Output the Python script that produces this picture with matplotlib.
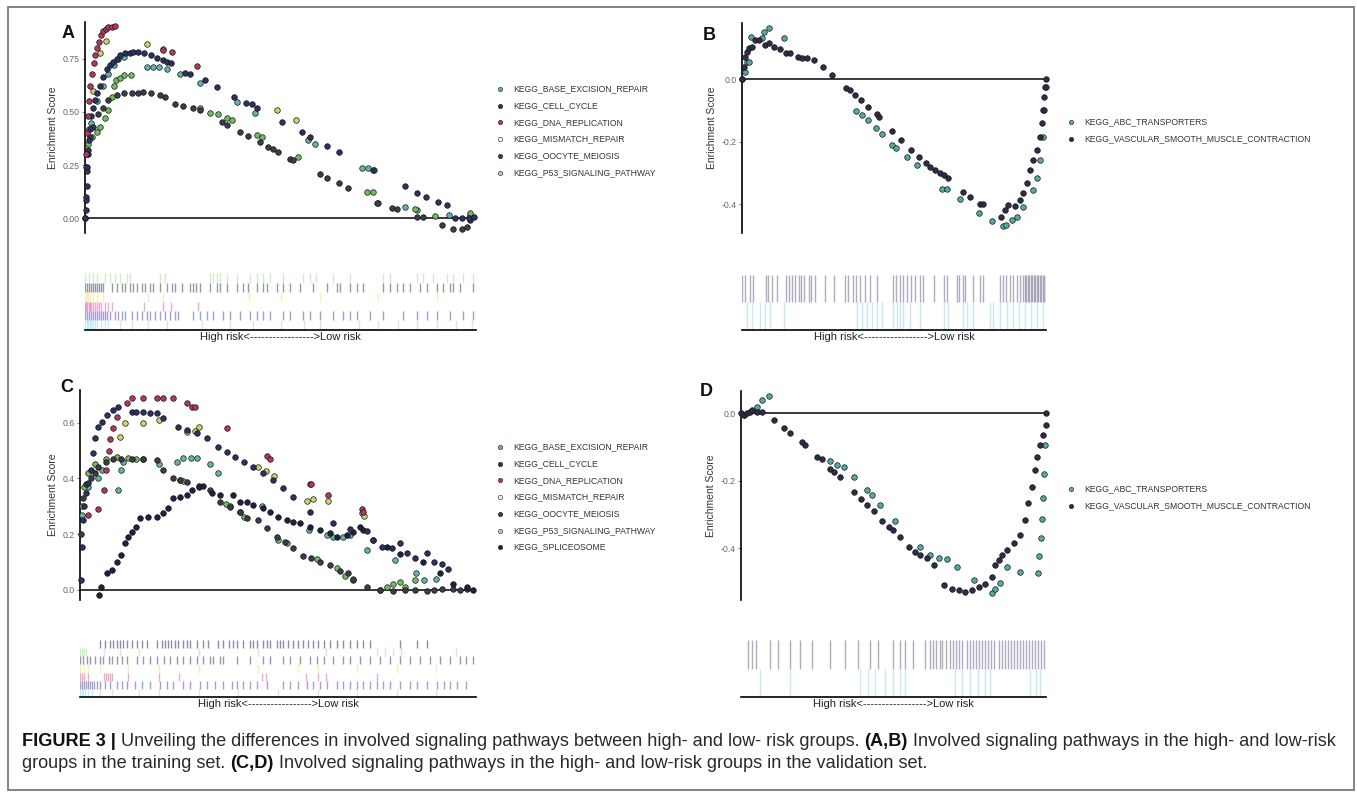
import matplotlib
matplotlib.use('Agg')
import matplotlib.pyplot as plt

plt.rcParams['font.family'] = ['Liberation Sans', 'DejaVu Sans']

# ---------------- data (x = rank fraction, y = running enrichment score) ----------------
# panel A (training set, high-risk enriched)
a_names = ['KEGG_BASE_EXCISION_REPAIR', 'KEGG_CELL_CYCLE', 'KEGG_DNA_REPLICATION',
           'KEGG_MISMATCH_REPAIR', 'KEGG_OOCYTE_MEIOSIS', 'KEGG_P53_SIGNALING_PATHWAY']
a_base_x = [0.005, 0.015, 0.03, 0.045, 0.06, 0.075, 0.085, 0.1, 0.158, 0.175, 0.19, 0.21, 0.243, 0.294,
            0.388, 0.435, 0.57, 0.588, 0.708, 0.725, 0.74, 0.818, 0.85, 0.93, 0.985]
a_base_y = [0.3, 0.45, 0.55, 0.62, 0.68, 0.72, 0.75, 0.76, 0.71, 0.71, 0.71, 0.70, 0.68, 0.635,
            0.545, 0.495, 0.37, 0.35, 0.237, 0.237, 0.225, 0.053, 0.04, 0.015, 0.014]
a_cell_x = [0.0, 0.002, 0.003, 0.004, 0.006, 0.008, 0.010, 0.013, 0.016, 0.021, 0.025, 0.030, 0.038, 0.046,
            0.055, 0.064, 0.072, 0.081, 0.090, 0.102, 0.115, 0.124, 0.136, 0.150, 0.170, 0.183, 0.200, 0.210,
            0.221, 0.255, 0.268, 0.307, 0.337, 0.380, 0.413, 0.426, 0.439, 0.503, 0.554, 0.575, 0.618, 0.650,
            0.736, 0.818, 0.848, 0.872, 0.904, 0.925, 0.947, 0.964, 0.981, 0.995]
a_cell_y = [0.0, 0.04, 0.085, 0.15, 0.24, 0.30, 0.37, 0.42, 0.48, 0.52, 0.555, 0.59, 0.62, 0.665,
            0.70, 0.72, 0.735, 0.75, 0.767, 0.775, 0.778, 0.783, 0.782, 0.775, 0.767, 0.752, 0.744, 0.737,
            0.73, 0.684, 0.678, 0.650, 0.615, 0.571, 0.543, 0.537, 0.52, 0.454, 0.403, 0.383, 0.339, 0.309,
            0.226, 0.152, 0.12, 0.10, 0.077, 0.061, 0.0, 0.0, 0.0, 0.005]
a_dna_x = [0.002, 0.005, 0.008, 0.011, 0.014, 0.018, 0.022, 0.026, 0.030, 0.035, 0.040, 0.046, 0.054, 0.060,
           0.068, 0.077, 0.200, 0.222, 0.287]
a_dna_y = [0.30, 0.40, 0.48, 0.55, 0.62, 0.68, 0.73, 0.77, 0.80, 0.83, 0.86, 0.88, 0.89, 0.90,
           0.90, 0.905, 0.79, 0.78, 0.715]
a_mis_x = [0.01, 0.02, 0.038, 0.054, 0.158, 0.20, 0.49, 0.54]
a_mis_y = [0.42, 0.6, 0.775, 0.835, 0.82, 0.795, 0.51, 0.46]
a_ooc_x = [0.0, 0.003, 0.005, 0.008, 0.013, 0.021, 0.034, 0.047, 0.060, 0.081, 0.100, 0.119, 0.136, 0.149,
           0.170, 0.191, 0.204, 0.230, 0.251, 0.277, 0.294, 0.350, 0.362, 0.396, 0.418, 0.447, 0.468, 0.481,
           0.494, 0.524, 0.533, 0.601, 0.618, 0.650, 0.673, 0.746, 0.784, 0.797, 0.848, 0.865, 0.912, 0.942,
           0.963, 0.976, 0.985]
a_ooc_y = [0.0, 0.10, 0.22, 0.32, 0.38, 0.43, 0.49, 0.52, 0.556, 0.58, 0.587, 0.587, 0.59, 0.595,
           0.59, 0.579, 0.568, 0.537, 0.527, 0.516, 0.508, 0.454, 0.438, 0.406, 0.386, 0.36, 0.336, 0.325,
           0.309, 0.276, 0.273, 0.21, 0.191, 0.163, 0.14, 0.069, 0.046, 0.042, 0.006, 0.003, -0.033, -0.049,
           -0.05, -0.04, -0.01]
a_p53_x = [0.003, 0.008, 0.017, 0.03, 0.038, 0.051, 0.06, 0.068, 0.074, 0.08, 0.09, 0.1, 0.117, 0.294, 0.32,
           0.341, 0.362, 0.375, 0.439, 0.452, 0.546, 0.72, 0.737, 0.750, 0.844, 0.896, 0.985]
a_p53_y = [0.24, 0.35, 0.383, 0.406, 0.43, 0.47, 0.508, 0.571, 0.62, 0.65, 0.66, 0.673, 0.673, 0.516, 0.496,
           0.49, 0.469, 0.46, 0.39, 0.383, 0.289, 0.124, 0.122, 0.069, 0.042, 0.009, 0.022]

# panel B (training set, low-risk enriched)
b_names = ['KEGG_ABC_TRANSPORTERS', 'KEGG_VASCULAR_SMOOTH_MUSCLE_CONTRACTION']
b_abc_x = [0.0, 0.011, 0.016, 0.022, 0.03, 0.066, 0.071, 0.088, 0.137, 0.376, 0.394, 0.413, 0.441, 0.46,
           0.493, 0.507, 0.542, 0.575, 0.657, 0.674, 0.718, 0.778, 0.821, 0.857, 0.87, 0.887, 0.903, 0.924,
           0.957, 0.97, 0.98, 0.99, 0.993, 1.0]
b_abc_y = [0.0, 0.023, 0.055, 0.055, 0.135, 0.13, 0.149, 0.162, 0.13, -0.101, -0.115, -0.131, -0.155, -0.176,
           -0.211, -0.221, -0.248, -0.274, -0.352, -0.352, -0.383, -0.427, -0.455, -0.471, -0.465, -0.452, -0.44,
           -0.408, -0.354, -0.317, -0.259, -0.185, -0.099, -0.025]
b_vsm_x = [0.0, 0.005, 0.011, 0.016, 0.022, 0.033, 0.044, 0.055, 0.077, 0.088, 0.104, 0.124, 0.146, 0.159,
           0.183, 0.197, 0.214, 0.236, 0.266, 0.297, 0.343, 0.354, 0.372, 0.391, 0.416, 0.443, 0.451, 0.493,
           0.524, 0.556, 0.583, 0.606, 0.619, 0.635, 0.652, 0.663, 0.679, 0.726, 0.75, 0.783, 0.794, 0.851,
           0.865, 0.876, 0.898, 0.915, 0.924, 0.937, 0.947, 0.957, 0.97, 0.98, 0.987, 0.99, 0.993, 0.997, 1.0]
b_vsm_y = [0.0, 0.04, 0.07, 0.087, 0.098, 0.103, 0.124, 0.124, 0.108, 0.114, 0.103, 0.095, 0.082, 0.082,
           0.071, 0.066, 0.066, 0.061, 0.039, 0.013, -0.03, -0.035, -0.051, -0.067, -0.09, -0.112, -0.12, -0.165,
           -0.195, -0.227, -0.248, -0.269, -0.28, -0.29, -0.301, -0.306, -0.317, -0.362, -0.378, -0.40, -0.398,
           -0.44, -0.42, -0.402, -0.407, -0.387, -0.365, -0.332, -0.291, -0.259, -0.227, -0.185, -0.141, -0.099,
           -0.057, -0.025, 0.0]

# panel C (validation set, high-risk enriched)
c_names = a_names + ['KEGG_SPLICEOSOME']
c_base_x = [0.004, 0.02, 0.045, 0.055, 0.095, 0.105, 0.11, 0.2, 0.245, 0.262, 0.28, 0.295, 0.329, 0.35, 0.46,
            0.58, 0.625, 0.64, 0.667, 0.684, 0.726, 0.797, 0.85, 0.87, 0.9]
c_base_y = [0.27, 0.37, 0.40, 0.43, 0.36, 0.43, 0.46, 0.45, 0.46, 0.472, 0.472, 0.472, 0.45, 0.42, 0.30,
            0.215, 0.197, 0.19, 0.19, 0.197, 0.143, 0.107, 0.06, 0.036, 0.04]
c_cell_x = [0.002, 0.004, 0.007, 0.01, 0.015, 0.021, 0.027, 0.032, 0.038, 0.046, 0.055, 0.068, 0.084, 0.095,
            0.131, 0.143, 0.16, 0.177, 0.194, 0.211, 0.249, 0.27, 0.295, 0.321, 0.35, 0.371, 0.392, 0.414,
            0.439, 0.464, 0.489, 0.515, 0.54, 0.582, 0.641, 0.684, 0.726, 0.743, 0.764, 0.789, 0.81, 0.827,
            0.848, 0.878, 0.895, 0.916, 0.932]
c_cell_y = [0.036, 0.155, 0.25, 0.30, 0.347, 0.382, 0.43, 0.49, 0.544, 0.586, 0.604, 0.627, 0.645, 0.655,
            0.639, 0.639, 0.639, 0.635, 0.633, 0.616, 0.586, 0.574, 0.562, 0.544, 0.514, 0.496, 0.478, 0.46,
            0.442, 0.418, 0.394, 0.365, 0.335, 0.281, 0.239, 0.22, 0.21, 0.18, 0.155, 0.149, 0.167, 0.131,
            0.113, 0.131, 0.102, 0.092, 0.074]
c_dna_x = [0.021, 0.046, 0.062, 0.066, 0.074, 0.076, 0.084, 0.093, 0.118, 0.131, 0.16, 0.194, 0.211, 0.236,
           0.27, 0.283, 0.292, 0.371, 0.473, 0.481, 0.582, 0.586, 0.629, 0.713, 0.717]
c_dna_y = [0.27, 0.29, 0.36, 0.43, 0.50, 0.54, 0.58, 0.62, 0.67, 0.69, 0.69, 0.687, 0.687, 0.687,
           0.672, 0.655, 0.655, 0.58, 0.48, 0.47, 0.38, 0.38, 0.34, 0.29, 0.28]
c_mis_x = [0.1, 0.113, 0.16, 0.2, 0.27, 0.29, 0.3, 0.45, 0.47, 0.49, 0.575, 0.59, 0.629, 0.713, 0.72]
c_mis_y = [0.55, 0.60, 0.60, 0.61, 0.565, 0.57, 0.585, 0.44, 0.425, 0.41, 0.32, 0.325, 0.32, 0.275, 0.265]
c_ooc_x = [0.002, 0.007, 0.015, 0.027, 0.038, 0.046, 0.066, 0.084, 0.105, 0.131, 0.16, 0.194, 0.211, 0.236,
           0.253, 0.27, 0.3, 0.329, 0.354, 0.38, 0.405, 0.422, 0.451, 0.473, 0.498, 0.519, 0.54, 0.565, 0.586,
           0.608, 0.633, 0.658, 0.679, 0.692, 0.726, 0.759, 0.793, 0.823, 0.848, 0.878, 0.895, 0.916, 0.945,
           0.962, 0.979]
c_ooc_y = [0.2, 0.33, 0.38, 0.40, 0.42, 0.44, 0.46, 0.47, 0.47, 0.47, 0.468, 0.465, 0.43, 0.40,
           0.394, 0.388, 0.37, 0.36, 0.317, 0.299, 0.281, 0.257, 0.25, 0.221, 0.191, 0.173, 0.149, 0.12, 0.113,
           0.102, 0.09, 0.069, 0.06, 0.036, 0.012, 0.0, -0.005, 0.0, 0.0, -0.005, 0.0, 0.003, 0.005,
           0.0, 0.005]
c_p53_x = [0.004, 0.01, 0.021, 0.038, 0.066, 0.093, 0.122, 0.143, 0.16, 0.253, 0.262, 0.37, 0.38, 0.405, 0.414,
           0.5, 0.525, 0.6, 0.65, 0.672, 0.692, 0.759, 0.776, 0.793, 0.81, 0.823, 0.848]
c_p53_y = [0.3, 0.37, 0.42, 0.45, 0.47, 0.475, 0.472, 0.47, 0.47, 0.394, 0.39, 0.31, 0.30, 0.28, 0.26,
           0.18, 0.17, 0.11, 0.08, 0.05, 0.04, 0.0, 0.01, 0.02, 0.03, 0.01, 0.036]
c_spl_x = [0.049, 0.053, 0.068, 0.08, 0.093, 0.105, 0.114, 0.122, 0.131, 0.143, 0.152, 0.173, 0.194, 0.211,
           0.224, 0.236, 0.253, 0.27, 0.283, 0.3, 0.312, 0.333, 0.354, 0.388, 0.405, 0.422, 0.439, 0.464, 0.481,
           0.502, 0.523, 0.54, 0.557, 0.582, 0.608, 0.633, 0.65, 0.675, 0.692, 0.709, 0.717, 0.743, 0.776, 0.81,
           0.869, 0.911, 0.945, 0.979, 0.996]
c_spl_y = [-0.018, 0.012, 0.06, 0.072, 0.102, 0.125, 0.167, 0.191, 0.209, 0.227, 0.257, 0.263, 0.263, 0.275,
           0.293, 0.329, 0.335, 0.341, 0.359, 0.371, 0.373, 0.347, 0.341, 0.341, 0.317, 0.317, 0.305, 0.293, 0.281,
           0.263, 0.251, 0.245, 0.239, 0.227, 0.215, 0.203, 0.191, 0.197, 0.209, 0.227, 0.215, 0.18, 0.155, 0.13,
           0.1, 0.06, 0.02, 0.01, 0.0]

# panel D (validation set, low-risk enriched)
d_abc_x = [0.009, 0.053, 0.069, 0.091, 0.293, 0.315, 0.337, 0.37, 0.413, 0.43, 0.457, 0.506, 0.588, 0.621,
           0.648, 0.676, 0.708, 0.763, 0.823, 0.834, 0.849, 0.871, 0.915, 0.975, 0.978, 0.983, 0.986, 0.989,
           0.994, 0.997]
d_abc_y = [-0.005, 0.02, 0.04, 0.05, -0.141, -0.153, -0.16, -0.19, -0.227, -0.242, -0.272, -0.319, -0.395, -0.42,
           -0.43, -0.432, -0.454, -0.494, -0.533, -0.519, -0.504, -0.455, -0.469, -0.474, -0.423, -0.37, -0.314,
           -0.252, -0.181, -0.094]
d_vsm_x = [0.0, 0.009, 0.02, 0.031, 0.036, 0.053, 0.069, 0.107, 0.14, 0.162, 0.2, 0.211, 0.249, 0.266, 0.293,
           0.304, 0.326, 0.37, 0.392, 0.413, 0.435, 0.462, 0.484, 0.5, 0.522, 0.55, 0.572, 0.588, 0.61, 0.632,
           0.665, 0.692, 0.714, 0.736, 0.757, 0.779, 0.801, 0.823, 0.834, 0.845, 0.856, 0.872, 0.894, 0.915,
           0.931, 0.942, 0.953, 0.964, 0.97, 0.98, 0.99, 0.999, 1.0]
d_vsm_y = [0.0, -0.005, 0.0, 0.005, 0.01, 0.003, 0.003, -0.02, -0.044, -0.059, -0.084, -0.094, -0.128, -0.136,
           -0.166, -0.173, -0.19, -0.232, -0.255, -0.272, -0.289, -0.319, -0.336, -0.346, -0.365, -0.395, -0.41,
           -0.42, -0.43, -0.449, -0.509, -0.519, -0.523, -0.528, -0.523, -0.514, -0.506, -0.484, -0.449, -0.435,
           -0.42, -0.405, -0.385, -0.361, -0.316, -0.267, -0.217, -0.168, -0.129, -0.094, -0.064, -0.035, 0.0]

# gene hit positions (rug rows, top to bottom)
a_rug = [
    [0.0, 0.01, 0.02, 0.03, 0.051, 0.064, 0.077, 0.09, 0.107, 0.115, 0.192, 0.205, 0.32, 0.328, 0.337, 0.345,
     0.362, 0.388, 0.422, 0.439, 0.456, 0.473, 0.507, 0.558, 0.575, 0.592, 0.635, 0.678, 0.763, 0.78, 0.848,
     0.865, 0.891, 0.925, 0.942, 0.968, 0.993],
    [0.0, 0.005, 0.01, 0.015, 0.02, 0.025, 0.03, 0.035, 0.04, 0.047, 0.068, 0.081, 0.094, 0.102, 0.115, 0.124,
     0.132, 0.145, 0.153, 0.166, 0.175, 0.192, 0.209, 0.222, 0.23, 0.247, 0.268, 0.277, 0.285, 0.294, 0.32,
     0.337, 0.345, 0.362, 0.388, 0.405, 0.418, 0.439, 0.456, 0.465, 0.49, 0.507, 0.524, 0.55, 0.584, 0.618,
     0.644, 0.652, 0.678, 0.695, 0.712, 0.763, 0.78, 0.797, 0.814, 0.831, 0.857, 0.874, 0.9, 0.916, 0.933,
     0.942, 0.959, 0.993],
    [0.0, 0.004, 0.008, 0.012, 0.02, 0.03, 0.045, 0.16, 0.2, 0.42, 0.5, 0.6, 0.75, 0.9],
    [0.0, 0.003, 0.006, 0.009, 0.012, 0.015, 0.02, 0.025, 0.03, 0.035, 0.04, 0.05, 0.06, 0.07, 0.15, 0.2,
     0.22, 0.29],
    [0.0, 0.005, 0.01, 0.015, 0.02, 0.025, 0.03, 0.035, 0.04, 0.045, 0.05, 0.055, 0.064, 0.077, 0.085, 0.094,
     0.102, 0.119, 0.132, 0.145, 0.158, 0.166, 0.179, 0.192, 0.205, 0.218, 0.23, 0.239, 0.277, 0.294, 0.311,
     0.328, 0.354, 0.371, 0.396, 0.422, 0.439, 0.456, 0.473, 0.507, 0.524, 0.558, 0.575, 0.601, 0.635, 0.661,
     0.678, 0.695, 0.729, 0.763, 0.814, 0.848, 0.874, 0.9, 0.933, 0.968, 0.993],
    [0.0, 0.004, 0.008, 0.012, 0.016, 0.02, 0.025, 0.03, 0.04, 0.05, 0.06, 0.09, 0.12, 0.16, 0.21, 0.3, 0.37,
     0.43, 0.5, 0.56, 0.6, 0.7, 0.75, 0.8, 0.85, 0.9, 0.95, 0.99],
]
b_rug = [
    [0.0, 0.011, 0.027, 0.036, 0.08, 0.087, 0.099, 0.115, 0.146, 0.153, 0.164, 0.175, 0.186, 0.194, 0.205,
     0.219, 0.228, 0.241, 0.274, 0.304, 0.339, 0.35, 0.365, 0.376, 0.389, 0.403, 0.422, 0.444, 0.498, 0.507,
     0.52, 0.531, 0.544, 0.556, 0.57, 0.584, 0.597, 0.63, 0.663, 0.674, 0.707, 0.715, 0.726, 0.735, 0.761,
     0.783, 0.794, 0.849, 0.857, 0.869, 0.88, 0.893, 0.904, 0.915, 0.925, 0.93, 0.935, 0.94, 0.945, 0.95,
     0.955, 0.96, 0.965, 0.97, 0.975, 0.98, 0.985, 0.99, 0.995, 1.0],
    [0.016, 0.033, 0.06, 0.077, 0.093, 0.137, 0.378, 0.394, 0.411, 0.427, 0.444, 0.46, 0.498, 0.509, 0.52,
     0.531, 0.553, 0.586, 0.663, 0.679, 0.728, 0.739, 0.761, 0.816, 0.827, 0.849, 0.871, 0.893, 0.91, 0.93,
     0.95, 0.97, 0.99],
]
c_rug = [
    [0.051, 0.063, 0.076, 0.084, 0.093, 0.101, 0.109, 0.119, 0.131, 0.145, 0.156, 0.168, 0.194, 0.206, 0.215,
     0.223, 0.231, 0.24, 0.248, 0.261, 0.269, 0.278, 0.295, 0.311, 0.324, 0.349, 0.362, 0.375, 0.387, 0.396,
     0.412, 0.429, 0.438, 0.446, 0.463, 0.471, 0.48, 0.497, 0.505, 0.513, 0.526, 0.539, 0.551, 0.564, 0.577,
     0.589, 0.602, 0.615, 0.631, 0.648, 0.665, 0.682, 0.699, 0.715, 0.732, 0.808, 0.85, 0.875],
    [0.0, 0.005, 0.01, 0.015, 0.06, 0.1, 0.15, 0.3, 0.45, 0.62, 0.75, 0.77, 0.79, 0.81, 0.95],
    [0.0, 0.008, 0.017, 0.025, 0.038, 0.051, 0.059, 0.072, 0.08, 0.093, 0.105, 0.118, 0.143, 0.16, 0.177,
     0.194, 0.211, 0.227, 0.244, 0.261, 0.278, 0.295, 0.311, 0.328, 0.337, 0.354, 0.362, 0.396, 0.429, 0.463,
     0.48, 0.513, 0.53, 0.556, 0.581, 0.598, 0.615, 0.64, 0.665, 0.682, 0.707, 0.732, 0.758, 0.783, 0.808,
     0.833, 0.859, 0.884, 0.91, 0.934, 0.96, 0.976, 0.993],
    [0.0, 0.01, 0.02, 0.05, 0.12, 0.2, 0.3, 0.45, 0.55, 0.6, 0.7, 0.8, 0.9],
    [0.0, 0.005, 0.01, 0.02, 0.06, 0.065, 0.07, 0.075, 0.08, 0.12, 0.2, 0.25, 0.46, 0.47, 0.57, 0.6, 0.62, 0.75],
    [0.0, 0.005, 0.01, 0.015, 0.02, 0.025, 0.03, 0.035, 0.042, 0.051, 0.063, 0.076, 0.093, 0.105, 0.118, 0.139,
     0.156, 0.177, 0.202, 0.219, 0.236, 0.261, 0.278, 0.303, 0.32, 0.341, 0.362, 0.383, 0.396, 0.412, 0.429,
     0.446, 0.471, 0.513, 0.53, 0.551, 0.572, 0.589, 0.606, 0.623, 0.648, 0.665, 0.682, 0.699, 0.715, 0.732,
     0.749, 0.766, 0.783, 0.808, 0.833, 0.85, 0.875, 0.901, 0.918, 0.934, 0.951, 0.976],
    [0.0, 0.004, 0.008, 0.012, 0.02, 0.03, 0.05, 0.08, 0.15, 0.2, 0.3, 0.4, 0.5, 0.6, 0.7, 0.8, 0.9],
]
d_rug = [
    [0.023, 0.036, 0.049, 0.095, 0.121, 0.161, 0.193, 0.233, 0.292, 0.341, 0.384, 0.423, 0.449, 0.498, 0.521,
     0.538, 0.564, 0.603, 0.62, 0.63, 0.64, 0.652, 0.66, 0.672, 0.685, 0.695, 0.705, 0.715, 0.725, 0.74,
     0.75, 0.76, 0.77, 0.78, 0.79, 0.8, 0.81, 0.82, 0.83, 0.845, 0.855, 0.865, 0.875, 0.885, 0.895, 0.905,
     0.915, 0.925, 0.935, 0.945, 0.955, 0.965, 0.975, 0.985, 0.995],
    [0.062, 0.161, 0.39, 0.416, 0.439, 0.472, 0.498, 0.521, 0.538, 0.702, 0.725, 0.751, 0.777, 0.8, 0.816,
     0.948, 0.967, 0.98],
]

# colours
col_base, col_cell, col_dna = '#62b6a8', '#2b3160', '#b03a5b'
col_mis, col_ooc, col_p53, col_spl = '#cfd36b', '#3b3b4a', '#6fbd5e', '#1d2142'
col_abc, col_vsm = '#55aaa3', '#2f2c48'
rug_multi = ['#9ad88a', '#55556a', '#eedc5a', '#e0589a', '#5d52a8', '#86d6e6']
rug_alpha = [0.45, 0.6, 0.45, 0.5, 0.55, 0.45]

W, H = 1357, 798
fig = plt.figure(figsize=(W / 100, H / 100), dpi=100)


def box(x0, y0, x1, y1):
    return fig.add_axes([x0 / W, 1 - y1 / H, (x1 - x0) / W, (y1 - y0) / H])


def es_panel(rect, ylim, yticks, ylabels, series, colors):
    ax = box(*rect)
    for (xs, ys), c in zip(series, colors):
        ax.scatter(xs, ys, s=16, c=c, edgecolors='#151515', linewidths=0.5, clip_on=False, zorder=3)
    ax.axhline(0, color='#3a3a3a', lw=1.4, zorder=1)
    ax.set_xlim(0, 1)
    ax.set_ylim(*ylim)
    for s in ['top', 'right', 'bottom']:
        ax.spines[s].set_visible(False)
    ax.spines['left'].set_linewidth(1.2)
    ax.set_xticks([])
    ax.set_yticks(yticks, ylabels)
    ax.tick_params(axis='y', length=2, width=0.6, colors='#666666', labelsize=6.3, pad=2)
    ax.set_ylabel('Enrichment Score', fontsize=7.5, color='#333333', labelpad=3)
    ax.patch.set_alpha(0)
    return ax


def rug_panel(rect, rows, colors, alphas):
    ax = box(*rect)
    n = len(rows)
    for i, (pos, c, al) in enumerate(zip(rows, colors, alphas)):
        ax.vlines(pos, n - 1 - i, n - i, colors=c, lw=1.0, alpha=al)
    ax.set_xlim(0, 1)
    ax.set_ylim(0, n)
    for s in ['top', 'right', 'left']:
        ax.spines[s].set_visible(False)
    ax.spines['bottom'].set_linewidth(1.2)
    ax.set_xticks([])
    ax.set_yticks([])
    ax.set_xlabel('High risk<----------------->Low risk', fontsize=8, color='#222222', labelpad=1.5)
    ax.patch.set_alpha(0)
    return ax


# panel A
es_panel((85, 22, 476, 233), (-0.07, 0.923), [0, 0.25, 0.5, 0.75], ['0.00', '0.25', '0.50', '0.75'],
         [(a_base_x, a_base_y), (a_p53_x, a_p53_y), (a_mis_x, a_mis_y), (a_ooc_x, a_ooc_y),
          (a_cell_x, a_cell_y), (a_dna_x, a_dna_y)],
         [col_base, col_p53, col_mis, col_ooc, col_cell, col_dna])
rug_panel((85, 273, 476, 330), a_rug, rug_multi, rug_alpha)

# panel B
es_panel((742, 23, 1046, 233), (-0.492, 0.179), [-0.4, -0.2, 0.0], ['-0.4', '-0.2', '0.0'],
         [(b_abc_x, b_abc_y), (b_vsm_x, b_vsm_y)], [col_abc, col_vsm])
rug_panel((742, 275, 1046, 330), b_rug, ['#7d7396', '#8fd6e2'], [0.6, 0.5])

# panel C
es_panel((80, 390, 475, 600), (-0.036, 0.717), [0, 0.2, 0.4, 0.6], ['0.0', '0.2', '0.4', '0.6'],
         [(c_base_x, c_base_y), (c_p53_x, c_p53_y), (c_mis_x, c_mis_y), (c_ooc_x, c_ooc_y),
          (c_spl_x, c_spl_y), (c_cell_x, c_cell_y), (c_dna_x, c_dna_y)],
         [col_base, col_p53, col_mis, col_ooc, col_spl, col_cell, col_dna])
rug_panel((80, 640, 476, 697), c_rug, ['#3c3f70'] + rug_multi, [0.6] + rug_alpha)

# panel D
es_panel((741, 391, 1046, 600), (-0.553, 0.066), [-0.4, -0.2, 0.0], ['-0.4', '-0.2', '0.0'],
         [(d_abc_x, d_abc_y), (d_vsm_x, d_vsm_y)], [col_abc, col_vsm])
rug_panel((741, 640, 1046, 697), d_rug, ['#7d7396', '#8fd6e2'], [0.6, 0.5])

# overlay in pixel coordinates: border, letters, legends, caption
ov = fig.add_axes([0, 0, 1, 1])
ov.set_xlim(0, W)
ov.set_ylim(H, 0)
ov.axis('off')
ov.patch.set_alpha(0)
ov.add_patch(plt.Rectangle((8, 7), 1346, 783, fill=False, ec='#7a7a7a', lw=1.3))

for letter, lx, ly in [('A', 62, 33), ('B', 703, 35), ('C', 60, 388), ('D', 700, 392)]:
    ov.text(lx, ly, letter, fontsize=13, fontweight='bold', ha='left', va='center', color='#111111')


def legend(x, y0, names, colors, step=16.7):
    for i, (nm, c) in enumerate(zip(names, colors)):
        y = y0 + i * step
        ov.scatter([x], [y], s=10, c=c, edgecolors='#222222', linewidths=0.4)
        ov.text(x + 13, y, nm, fontsize=6.2, color='#333333', va='center', ha='left')


leg_a_cols = [col_base, col_cell, col_dna, '#f4f4ee', col_ooc, '#b9cfb4']
legend(500, 89, a_names, leg_a_cols)
legend(1071, 122, b_names, [col_abc, col_vsm])
legend(500, 447, c_names, leg_a_cols + [col_spl])
legend(1071, 489, b_names, [col_abc, col_vsm])

fig.canvas.draw()
renderer = fig.canvas.get_renderer()
cap_family = ['Liberation Sans Narrow', 'Liberation Sans', 'DejaVu Sans']

line1 = [('FIGURE 3 | ', True),
         ('Unveiling the differences in involved signaling pathways between high- and low- risk groups. ', False),
         ('(A,B)', True),
         (' Involved signaling pathways in the high- and low-risk', False)]
line2 = [('groups in the training set. ', False), ('(C,D)', True),
         (' Involved signaling pathways in the high- and low-risk groups in the validation set.', False)]


def rich_line(x, y, parts, fs):
    arts = []
    for txt, bold in parts:
        t = ov.text(x, y, txt, fontsize=fs, fontweight='bold' if bold else 'normal', family=cap_family,
                    color='#111111' if bold else '#2a2a2a', ha='left', va='center')
        x += t.get_window_extent(renderer=renderer).width
        arts.append(t)
    return x, arts


# size the caption so that its first line spans the figure width like the original
end, tmp = rich_line(22, 741, line1, 10)
for t in tmp:
    t.remove()
cap_fs = 10 * (1338 - 22) / (end - 22)
rich_line(22, 741, line1, cap_fs)
rich_line(22, 763, line2, cap_fs)

fig.savefig('out.png', dpi=100)
